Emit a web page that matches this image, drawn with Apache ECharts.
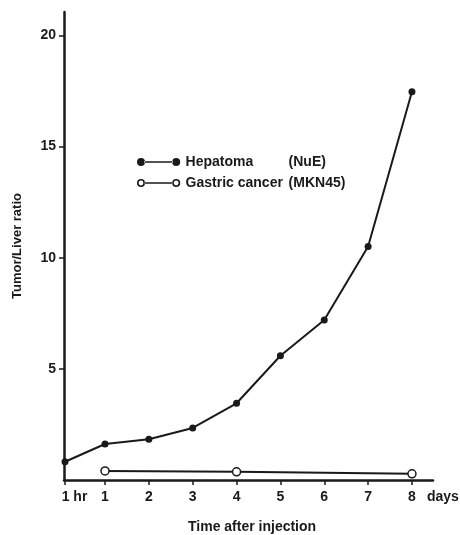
<!DOCTYPE html>
<html>
<head>
<meta charset="utf-8">
<script src="https://cdn.jsdelivr.net/npm/echarts@6/dist/echarts.min.js"></script>
<style>html,body{margin:0;padding:0;background:#fff;}#c{width:460px;height:535px;}</style>
</head>
<body>
<div id="c"></div>
<script>
// Data
const xTickValues = [0.088, 1, 2, 3, 4, 5, 6, 7, 8];
const xTickLabels = ['1 hr', '1', '2', '3', '4', '5', '6', '7', '8'];
const yTickValues = [5, 10, 15, 20];
const hepatomaX = [0.088, 1, 2, 3, 4, 5, 6, 7, 8];
const hepatomaY = [0.82, 1.62, 1.83, 2.34, 3.45, 5.59, 7.2, 10.5, 17.46];
const gastricX = [1, 4, 8];
const gastricY = [0.41, 0.37, 0.28];
const seriesNames = ['Hepatoma', 'Gastric cancer'];
const seriesTags = ['(NuE)', '(MKN45)'];

const ink = '#1a1a1a';
const font = '"Liberation Sans", Arial, sans-serif';

const chart = echarts.init(document.getElementById('c'), null, {renderer: 'canvas'});

const filledIcon = 'path://M0,5 a5,5 0 1,0 10,0 a5,5 0 1,0 -10,0 Z M9,4 L45,4 L45,6 L9,6 Z M44,5 a5,5 0 1,0 10,0 a5,5 0 1,0 -10,0 Z';
const openIcon = 'path://M0,5 a5,5 0 1,0 10,0 a5,5 0 1,0 -10,0 Z M2,5 a3,3 0 1,1 6,0 a3,3 0 1,1 -6,0 Z M9.5,4.2 L44.5,4.2 L44.5,5.8 L9.5,5.8 Z M44,5 a5,5 0 1,0 10,0 a5,5 0 1,0 -10,0 Z M46,5 a3,3 0 1,1 6,0 a3,3 0 1,1 -6,0 Z';

function labelFor(v) {
  for (let i = 0; i < xTickValues.length; i++) {
    if (Math.abs(xTickValues[i] - v) < 1e-6) {
      return i === 0 ? '{h|' + xTickLabels[i] + '}' : xTickLabels[i];
    }
  }
  return '';
}

chart.setOption({
  animation: false,
  backgroundColor: '#fff',
  grid: {left: 64, right: 27, top: 12, bottom: 55, containLabel: false},
  legend: {
    orient: 'vertical',
    left: 137,
    top: 155,
    padding: 0,
    itemWidth: 44,
    itemHeight: 8,
    itemGap: 7,
    selectedMode: false,
    data: [
      {name: seriesNames[0], icon: filledIcon, itemStyle: {color: ink, borderWidth: 0}},
      {name: seriesNames[1], icon: openIcon, itemStyle: {color: ink, borderWidth: 0}}
    ],
    formatter: function (name) {
      const i = seriesNames.indexOf(name);
      return '{a|' + name + '}{b|' + seriesTags[i] + '}';
    },
    textStyle: {
      color: ink,
      fontFamily: font,
      fontWeight: 'bold',
      fontSize: 14,
      rich: {
        a: {width: 103, color: ink, fontFamily: font, fontWeight: 'bold', fontSize: 14},
        b: {color: ink, fontFamily: font, fontWeight: 'bold', fontSize: 14}
      }
    }
  },
  xAxis: {
    type: 'value',
    min: 0.065,
    max: 8.48,
    axisLine: {show: true, onZero: false, lineStyle: {color: ink, width: 2.5}},
    axisTick: {show: true, length: 5, customValues: xTickValues, lineStyle: {color: ink, width: 1.5}},
    axisLabel: {
      show: true,
      customValues: xTickValues,
      margin: 10,
      color: ink,
      fontFamily: font,
      fontWeight: 'bold',
      fontSize: 14,
      formatter: labelFor,
      rich: {
        h: {padding: [0, 0, 0, 19], color: ink, fontFamily: font, fontWeight: 'bold', fontSize: 14}
      }
    },
    splitLine: {show: false}
  },
  yAxis: {
    type: 'value',
    min: 0,
    max: 21.05,
    name: 'Tumor/Liver ratio',
    nameLocation: 'middle',
    nameGap: 40,
    nameTextStyle: {color: ink, fontFamily: font, fontWeight: 'bold', fontSize: 13},
    axisLine: {show: true, onZero: false, lineStyle: {color: ink, width: 2.5}},
    axisTick: {show: true, length: 5, customValues: yTickValues, lineStyle: {color: ink, width: 1.5}},
    axisLabel: {
      show: true,
      customValues: yTickValues,
      margin: 8,
      color: ink,
      fontFamily: font,
      fontWeight: 'bold',
      fontSize: 14
    },
    splitLine: {show: false}
  },
  graphic: [
    {type: 'text', left: 427, top: 490, style: {text: 'days', fill: ink, font: 'bold 14px ' + font}},
    {type: 'text', left: 188, top: 520, style: {text: 'Time after injection', fill: ink, font: 'bold 14px ' + font}}
  ],
  series: [
    {
      name: seriesNames[0],
      type: 'line',
      data: hepatomaX.map((x, i) => [x, hepatomaY[i]]),
      symbol: 'circle',
      symbolSize: 7,
      itemStyle: {color: ink},
      lineStyle: {color: ink, width: 2}
    },
    {
      name: seriesNames[1],
      type: 'line',
      data: gastricX.map((x, i) => [x, gastricY[i]]),
      symbol: 'circle',
      symbolSize: 8,
      itemStyle: {color: '#fff', borderColor: ink, borderWidth: 1.5},
      lineStyle: {color: ink, width: 2}
    }
  ]
});
</script>
</body>
</html>
